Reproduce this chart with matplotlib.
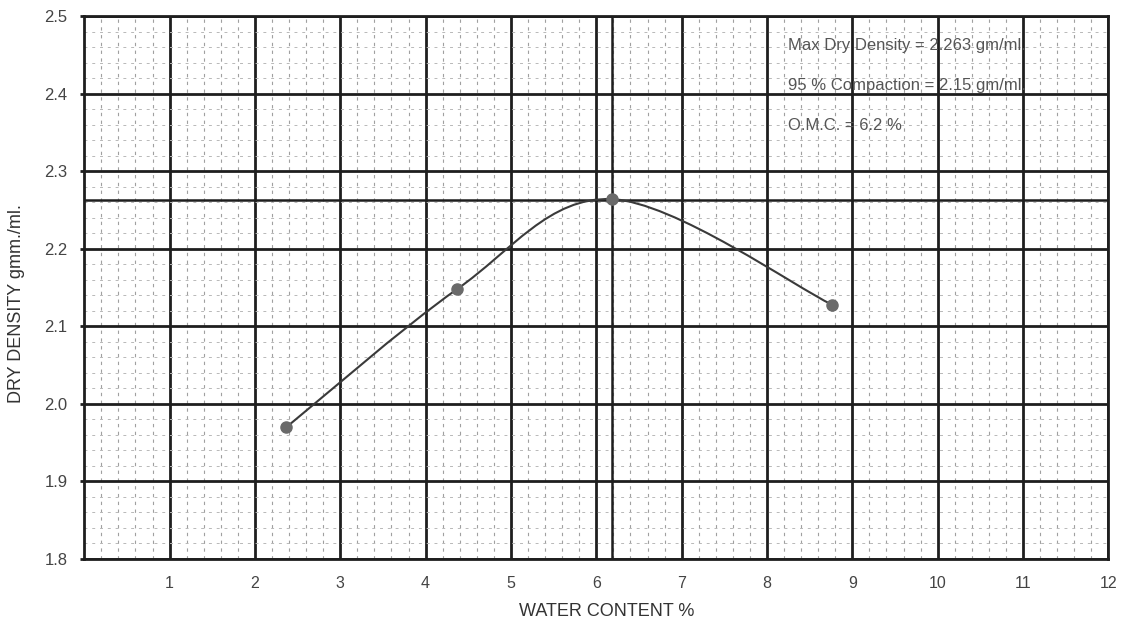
import numpy as np
import matplotlib.pyplot as plt
from matplotlib.path import Path
from matplotlib.patches import PathPatch

plt.rcParams['font.family'] = ['Liberation Sans', 'DejaVu Sans']

water = [2.37, 4.37, 6.18, 8.76]
density = [1.97, 2.148, 2.264, 2.128]
max_dd = 2.263
omc = 6.18
notes = ["Max Dry Density = 2.263 gm/ml.",
         "95 % Compaction = 2.15 gm/ml.",
         "O.M.C. = 6.2 %"]

fig = plt.figure(figsize=(11.23, 6.21), dpi=100)
ax = fig.add_axes([0.075, 0.1, 0.912, 0.874])

ax.set_xlim(0, 12)
ax.set_ylim(1.8, 2.5)
ax.set_xticks(np.arange(1, 13))
ax.set_yticks(np.round(np.arange(1.8, 2.51, 0.1), 1))
ax.set_xticks(np.arange(0, 12.01, 0.2), minor=True)
ax.set_yticks(np.arange(1.8, 2.501, 0.02), minor=True)

ax.grid(which='minor', axis='x', color='#a0a0a0', lw=0.8, ls=(0, (3, 4)))
ax.grid(which='minor', axis='y', color='#b8b8b8', lw=0.7, ls=(0, (3, 5)))
ax.grid(which='major', color='#1e1e1e', lw=2.0)
ax.axhline(max_dd, color='#1e1e1e', lw=1.8)
ax.axvline(omc, color='#1e1e1e', lw=1.8)
ax.set_axisbelow(True)

for s in ax.spines.values():
    s.set_color('#1e1e1e')
    s.set_linewidth(2.0)

ax.tick_params(which='major', length=3, width=2, color='#1e1e1e',
               labelsize=12, labelcolor='#444444', pad=9)
ax.tick_params(axis='x', which='major', length=0, pad=12, labelsize=11.5)
ax.tick_params(which='minor', length=0)
ax.set_yticklabels([f"{v:.1f}" for v in ax.get_yticks()])

# smoothed curve through the points (Catmull-Rom as cubic Bezier)
pts = np.column_stack([water, density])
verts = [tuple(pts[0])]
codes = [Path.MOVETO]
n = len(pts)
for i in range(n - 1):
    p0 = pts[i - 1] if i > 0 else pts[i]
    p1 = pts[i]
    p2 = pts[i + 1]
    p3 = pts[i + 2] if i + 2 < n else pts[i + 1]
    c1 = p1 + (p2 - p0) / 6.0
    c2 = p2 - (p3 - p1) / 6.0
    verts += [tuple(c1), tuple(c2), tuple(p2)]
    codes += [Path.CURVE4] * 3
ax.add_patch(PathPatch(Path(verts, codes), fc='none', ec='#3a3a3a', lw=1.5, zorder=3))
ax.plot(water, density, 'o', color='#6a6a6a', ms=8, zorder=4)

for i, t in enumerate(notes):
    ax.text(8.25, 2.4626 - i * 0.052, t, fontsize=12, color='#555555', va='center')

ax.set_xlabel("WATER CONTENT %", fontsize=13, color='#333333')
ax.set_ylabel("DRY DENSITY gmm./ml.", fontsize=13, color='#333333')
ax.xaxis.set_label_coords(0.51, -0.081)
ax.yaxis.set_label_coords(-0.058, 0.47)

fig.savefig('out.png', dpi=100)
